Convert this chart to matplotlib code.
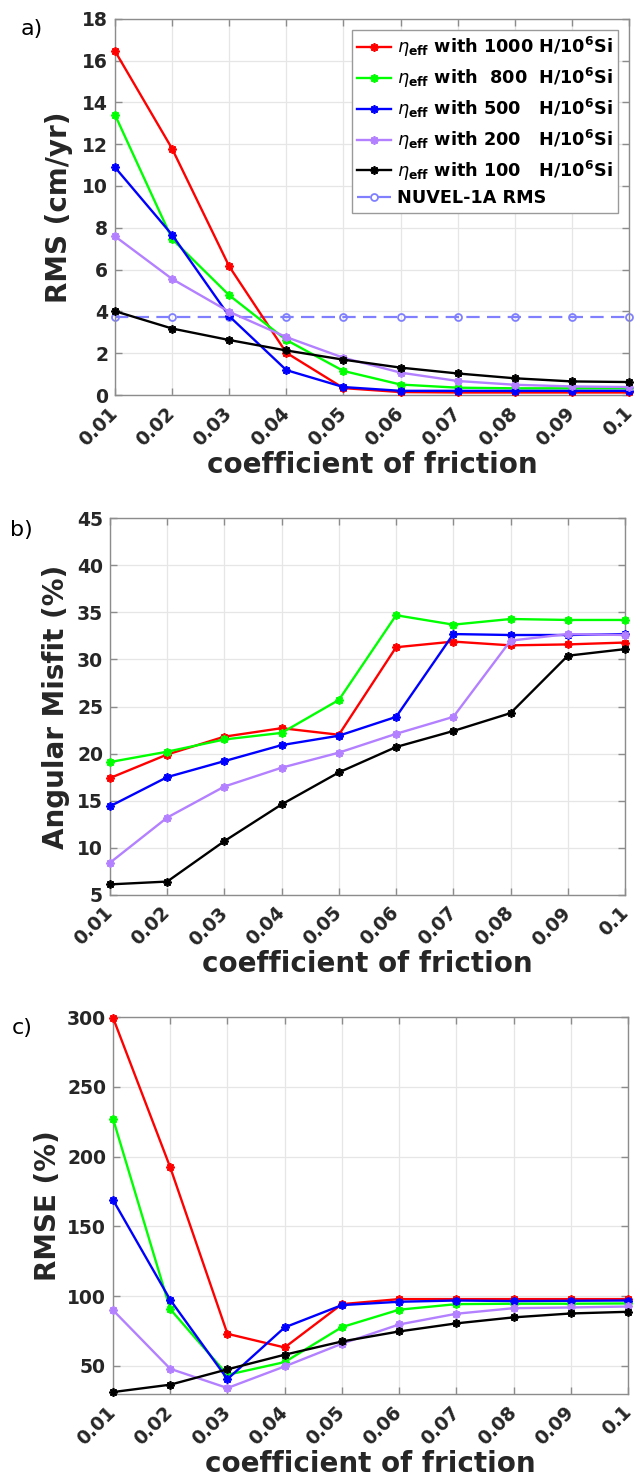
import matplotlib
matplotlib.use("Agg")
import matplotlib.pyplot as plt

# coefficient of friction (x axis shared by all panels)
friction = [0.01, 0.02, 0.03, 0.04, 0.05, 0.06, 0.07, 0.08, 0.09, 0.10]
friction_labels = ["0.01", "0.02", "0.03", "0.04", "0.05",
                   "0.06", "0.07", "0.08", "0.09", "0.1"]

# a) RMS velocity (cm/yr)
rms_1000 = [16.45, 11.78, 6.15, 2.02, 0.33, 0.14, 0.12, 0.12, 0.12, 0.12]
rms_800 = [13.40, 7.46, 4.77, 2.63, 1.15, 0.50, 0.35, 0.32, 0.32, 0.32]
rms_500 = [10.89, 7.66, 3.77, 1.19, 0.38, 0.20, 0.20, 0.20, 0.20, 0.20]
rms_200 = [7.59, 5.55, 3.98, 2.77, 1.78, 1.07, 0.67, 0.49, 0.41, 0.38]
rms_100 = [4.01, 3.18, 2.63, 2.13, 1.69, 1.31, 1.03, 0.80, 0.65, 0.62]
nuvel_rms = [3.75] * 10

# b) angular misfit (%)
ang_1000 = [17.4, 19.9, 21.8, 22.7, 22.0, 31.3, 31.9, 31.5, 31.6, 31.8]
ang_800 = [19.1, 20.2, 21.5, 22.2, 25.7, 34.7, 33.7, 34.3, 34.2, 34.2]
ang_500 = [14.4, 17.5, 19.2, 20.9, 21.9, 23.9, 32.7, 32.6, 32.6, 32.7]
ang_200 = [8.4, 13.2, 16.5, 18.5, 20.1, 22.1, 23.9, 32.0, 32.7, 32.6]
ang_100 = [6.1, 6.4, 10.7, 14.6, 18.0, 20.7, 22.4, 24.3, 30.4, 31.1]

# c) RMSE (%)
rmse_1000 = [299.8, 192.4, 72.9, 63.1, 94.2, 97.8, 97.8, 97.8, 97.8, 97.8]
rmse_800 = [227.3, 90.6, 43.5, 52.6, 77.7, 90.2, 94.2, 94.5, 94.5, 94.7]
rmse_500 = [169.0, 97.3, 40.4, 77.5, 93.5, 95.9, 96.8, 96.4, 96.6, 96.8]
rmse_200 = [89.9, 47.8, 34.0, 49.5, 65.8, 79.6, 87.3, 91.3, 91.8, 92.5]
rmse_100 = [31.1, 36.4, 47.4, 57.9, 67.4, 74.6, 80.4, 84.7, 87.5, 88.7]

series_colors = ["#ff0000", "#00ff00", "#0000ff", "#b380ff", "#000000"]
series_names = [
    r"$\eta_{\mathbf{eff}}$ with 1000 H/10$^{\mathbf{6}}$Si",
    r"$\eta_{\mathbf{eff}}$ with  800  H/10$^{\mathbf{6}}$Si",
    r"$\eta_{\mathbf{eff}}$ with 500   H/10$^{\mathbf{6}}$Si",
    r"$\eta_{\mathbf{eff}}$ with 200   H/10$^{\mathbf{6}}$Si",
    r"$\eta_{\mathbf{eff}}$ with 100   H/10$^{\mathbf{6}}$Si",
]

TXT = "#262626"
AXC = "#8c8c8c"
ASTER = (8, 2, 0)

plt.rcParams["font.family"] = ["DejaVu Sans"]
plt.rcParams["mathtext.fontset"] = "dejavusans"

fig = plt.figure(figsize=(6.39, 14.75), dpi=100)

panels = [
    dict(rect=[0.1800, 0.7322, 0.8044, 0.2551], data=[rms_1000, rms_800, rms_500, rms_200, rms_100],
         ylim=(0, 18), yticks=list(range(0, 19, 2)), ylabel="RMS (cm/yr)", ylx=-0.082,
         tag="a)", tagxy=(21, 29)),
    dict(rect=[0.1721, 0.3934, 0.8060, 0.2552], data=[ang_1000, ang_800, ang_500, ang_200, ang_100],
         ylim=(5, 45), yticks=list(range(5, 46, 5)), ylabel="Angular Misfit (%)", ylx=-0.078,
         tag="b)", tagxy=(10, 530)),
    dict(rect=[0.1768, 0.0549, 0.8060, 0.2554], data=[rmse_1000, rmse_800, rmse_500, rmse_200, rmse_100],
         ylim=(29.7, 300), yticks=list(range(50, 301, 50)), ylabel="RMSE (%)", ylx=-0.099,
         tag="c)", tagxy=(12, 1028)),
]

for i, p in enumerate(panels):
    ax = fig.add_axes(p["rect"])
    for vals, col, name in zip(p["data"], series_colors, series_names):
        ax.plot(friction, vals, color=col, lw=1.7, marker=ASTER, ms=6, mew=1.3,
                label=name, clip_on=False, zorder=3)
    if i == 0:
        ax.plot(friction, nuvel_rms, color="#8080ff", lw=1.6, ls=(0, (6, 3.3)),
                marker="o", ms=5, mfc="none", mew=1.3, label="NUVEL-1A RMS",
                clip_on=False, zorder=2)
        leg = ax.legend(loc="upper right", bbox_to_anchor=(0.9786, 0.970),
                        prop=dict(weight="bold", size=12.7), frameon=True,
                        fancybox=False, edgecolor="#9a9a9a", framealpha=1,
                        handlelength=1.9, handletextpad=0.34, borderpad=0.3,
                        labelspacing=0.38, borderaxespad=0)
        leg.get_frame().set_linewidth(1.0)
        for t in leg.get_texts():
            t.set_color("#000000")

    ax.set_xlim(0.01, 0.10)
    ax.set_ylim(*p["ylim"])
    ax.set_xticks(friction)
    ax.set_xticklabels(friction_labels)
    ax.set_yticks(p["yticks"])
    ax.grid(True, color="#e6e6e6", lw=0.9)
    ax.set_axisbelow(True)
    for s in ax.spines.values():
        s.set_color(AXC)
        s.set_linewidth(1.0)
    ax.tick_params(axis="both", direction="in", length=5, width=1.0, color=AXC,
                   top=True, right=True, labelcolor=TXT, labelsize=13.5)
    ax.tick_params(axis="x", pad=11)
    ax.tick_params(axis="y", pad=5)
    for lbl in ax.get_xticklabels():
        lbl.set_rotation(45)
        lbl.set_rotation_mode("anchor")
        lbl.set_ha("right")
        lbl.set_va("center")
        lbl.set_fontweight("bold")
    for lbl in ax.get_yticklabels():
        lbl.set_fontweight("bold")

    ax.set_xlabel("coefficient of friction", fontsize=20, fontweight="bold", color=TXT)
    ax.xaxis.set_label_coords(0.5, -0.148)
    ax.set_ylabel(p["ylabel"], fontsize=20, fontweight="bold", color=TXT)
    ax.yaxis.set_label_coords(p["ylx"], 0.5)

    fig.text(p["tagxy"][0] / 639, 1 - p["tagxy"][1] / 1475, p["tag"], fontsize=16,
             color="#000000", ha="left", va="center")

fig.savefig("out.png", dpi=100)
